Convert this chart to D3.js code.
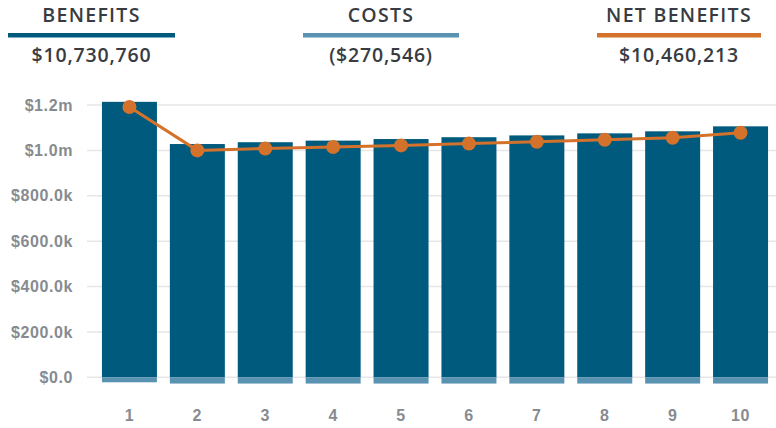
<!DOCTYPE html>
<html>
<head>
<meta charset="utf-8">
<script src="https://cdn.jsdelivr.net/npm/d3@7"></script>
<style>
  body { margin: 0; background: #fff; }
  svg { display: block; }
</style>
</head>
<body>
<div id="chart"></div>
<script>
// values
const years = ["1", "2", "3", "4", "5", "6", "7", "8", "9", "10"];
const benefits = [1214000, 1028000, 1036000, 1043000, 1050000, 1058000, 1066000, 1075000, 1084000, 1106000];
const costs = [-22000, -27600, -27600, -27600, -27600, -27600, -27600, -27600, -27600, -27600];
const netBenefits = [1191000, 1000000, 1008000, 1015000, 1022000, 1030000, 1038000, 1047000, 1056000, 1078000];
const yTicks = [0, 200000, 400000, 600000, 800000, 1000000, 1200000];

const summary = [
    { label: "BENEFITS", value: "$10,730,760", color: "#005a7e", x0: 8, x1: 175 },
    { label: "COSTS", value: "($270,546)", color: "#5a93b1", x0: 303, x1: 459 },
    { label: "NET BENEFITS", value: "$10,460,213", color: "#d4722c", x0: 597, x1: 761 }
];

const
    width = 776,
    height = 428,
    svg = d3.select("#chart").append("svg").attr("width", width).attr("height", height);

var colors = {
    benefit: "#005a7e",
    cost: "#5a93b1",
    net: "#d4722c",
    grid: "#e6e6e6",
    axis: "#878b90",
    head: "#383c42"
};

var x = d3.scaleBand()
    .domain(years)
    .range([95.5, 774.5])
    .paddingInner(0.19)
    .paddingOuter(0.095);

var y = d3.scaleLinear()
    .domain([0, 1200000])
    .range([377.3, 105]);

function money(v) {
    if (v >= 1000000) return "$" + (v / 1000000).toFixed(1) + "m";
    if (v >= 1000) return "$" + (v / 1000).toFixed(1) + "k";
    return "$" + v.toFixed(1);
}

// header
const head = svg.append("g")
    .style("font-family", "'Open Sans', sans-serif")
    .attr("fill", colors.head);

summary.forEach(s => {
    let cx = (s.x0 + s.x1) / 2;
    head.append("text")
        .attr("x", cx)
        .attr("y", 21.5)
        .attr("text-anchor", "middle")
        .style("font-size", "19.5px")
        .style("font-weight", 600)
        .style("letter-spacing", "1.3px")
        .text(s.label);
    head.append("rect")
        .attr("x", s.x0)
        .attr("y", 33)
        .attr("width", s.x1 - s.x0)
        .attr("height", 4.5)
        .attr("fill", s.color);
    head.append("text")
        .attr("x", cx)
        .attr("y", 62)
        .attr("text-anchor", "middle")
        .style("font-size", "19.5px")
        .style("font-weight", 600)
        .style("letter-spacing", "0.8px")
        .text(s.value);
});

// grid
svg.append("g")
    .selectAll("line")
    .data(yTicks)
    .enter().append("line")
    .attr("x1", 87)
    .attr("x2", width)
    .attr("y1", d => y(d))
    .attr("y2", d => y(d))
    .attr("stroke", colors.grid)
    .attr("stroke-width", 1.5);

// y axis
const yAxis = svg.append("g")
    .attr("transform", "translate(73,0)")
    .call(d3.axisLeft(y).tickValues(yTicks).tickFormat(money).tickSize(0).tickPadding(0));
yAxis.select(".domain").remove();
yAxis.selectAll("text")
    .attr("fill", colors.axis)
    .style("font-family", "'Liberation Sans', Arial, sans-serif")
    .style("font-size", "16px")
    .style("letter-spacing", "0.6px")
    .style("font-weight", "bold");

// x axis
const xAxis = svg.append("g")
    .attr("transform", "translate(0,405)")
    .call(d3.axisBottom(x).tickSize(0).tickPadding(0));
xAxis.select(".domain").remove();
xAxis.selectAll("text")
    .attr("fill", colors.axis)
    .attr("dy", "1em")
    .style("font-family", "'Liberation Sans', Arial, sans-serif")
    .style("font-size", "16px")
    .style("letter-spacing", "0.6px")
    .style("font-weight", "bold");

// bars
svg.append("g")
    .selectAll("rect")
    .data(benefits)
    .enter().append("rect")
    .attr("x", (d, i) => x(years[i]))
    .attr("width", x.bandwidth())
    .attr("y", d => y(d))
    .attr("height", d => y(0) - y(d))
    .attr("fill", colors.benefit);

svg.append("g")
    .selectAll("rect")
    .data(costs)
    .enter().append("rect")
    .attr("x", (d, i) => x(years[i]))
    .attr("width", x.bandwidth())
    .attr("y", y(0))
    .attr("height", d => y(d) - y(0))
    .attr("fill", colors.cost);

// net line
var line = d3.line()
    .x((d, i) => x(years[i]) + x.bandwidth() / 2)
    .y(d => y(d));

svg.append("path")
    .datum(netBenefits)
    .attr("fill", "none")
    .attr("stroke", colors.net)
    .attr("stroke-width", 3)
    .attr("stroke-linejoin", "round")
    .attr("d", line);

svg.append("g")
    .selectAll("circle")
    .data(netBenefits)
    .enter().append("circle")
    .attr("cx", (d, i) => x(years[i]) + x.bandwidth() / 2)
    .attr("cy", d => y(d))
    .attr("r", 7)
    .attr("fill", colors.net);
</script>
</body>
</html>
